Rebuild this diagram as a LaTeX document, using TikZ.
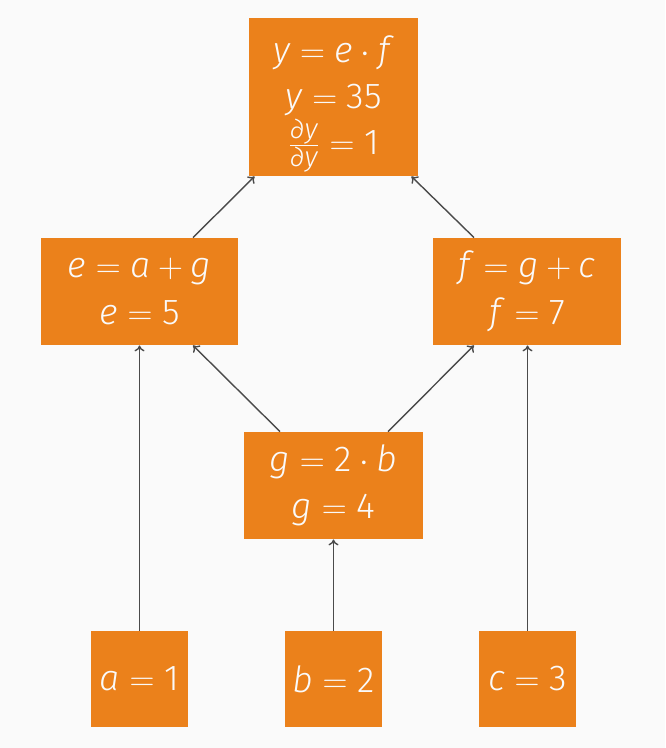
\documentclass[tikz,border=0pt]{standalone}
\usepackage{fontspec}
\setmainfont{Fira Sans Light}
\usetikzlibrary{arrows.meta}
\definecolor{pagebg}{HTML}{FAFAFA}
\definecolor{boxfill}{HTML}{EB811B}
\definecolor{edgecol}{HTML}{4A4A4A}
% italic variable and spaced relation / operator signs
\newcommand{\vr}[1]{\textit{#1}}
\newcommand{\eqs}{$\;=\;$}
\newcommand{\plus}{$\mkern4mu+\mkern4mu$}
\newcommand{\dotop}{$\mkern4mu\cdot\mkern4mu$}
\newcommand{\pd}{\hbox{\fontsize{14}{14}\selectfont\itshape ∂y}}
\tikzset{
  opbox/.style={fill=boxfill, text=pagebg, inner sep=0pt, align=center,
    font=\fontsize{18}{23.5}\selectfont},
  flow/.style={draw=edgecol, line width=0.7pt, -{To[length=3pt,width=5pt]}}
}
\begin{document}
\begin{tikzpicture}[x=0.5pt,y=-0.5pt]
  \useasboundingbox[fill=pagebg] (0,0) rectangle (665,748);
  % computation nodes
  \node[opbox, minimum width=84.5pt, minimum height=79pt] (y) at (333.5,97) {};
  \node[text=pagebg, align=center, font=\fontsize{18}{23}\selectfont] (ytext) at (333.5,104)
    {\vr{y}\eqs\vr{e}\dotop\vr{f}\\ \vr{y}\eqs35\\[0pt]
     $\frac{\pd}{\pd}$\eqs1};
  \node[opbox, minimum width=98.5pt, minimum height=53.5pt] (e) at (139.5,291.5)
    {\vr{e}\eqs\vr{a}\plus\vr{g}\\ \vr{e}\eqs5};
  \node[opbox, minimum width=94pt, minimum height=53.5pt] (f) at (527,291.5)
    {\vr{f}\eqs\vr{g}\plus\vr{c}\\ \vr{f}\eqs7};
  \node[opbox, minimum width=89.5pt, minimum height=53.5pt] (g) at (333.5,485.5)
    {\vr{g}\eqs2\dotop\vr{b}\\ \vr{g}\eqs4};
  % input nodes
  \node[opbox, minimum width=48.5pt, minimum height=48pt] (a) at (139.5,679) {\vr{a}\eqs1};
  \node[opbox, minimum width=48.5pt, minimum height=48pt] (b) at (333.5,679) {\vr{b}\eqs2};
  \node[opbox, minimum width=48.5pt, minimum height=48pt] (c) at (527.5,679) {\vr{c}\eqs3};
  % edges
  \draw[flow] (a.north) -- (a.north |- e.south);
  \draw[flow] (b.north) -- (g.south);
  \draw[flow] (c.north) -- (c.north |- f.south);
  \draw[flow] ([xshift=-26.75pt]g.north) -- ([xshift=26.75pt]e.south);
  \draw[flow] ([xshift=27.25pt]g.north) -- ([xshift=-26.5pt]f.south);
  \draw[flow] ([xshift=26.75pt]e.north) -- ([xshift=3pt]y.south west);
  \draw[flow] ([xshift=-26.5pt]f.north) -- ([xshift=-3.5pt]y.south east);
\end{tikzpicture}
\end{document}
